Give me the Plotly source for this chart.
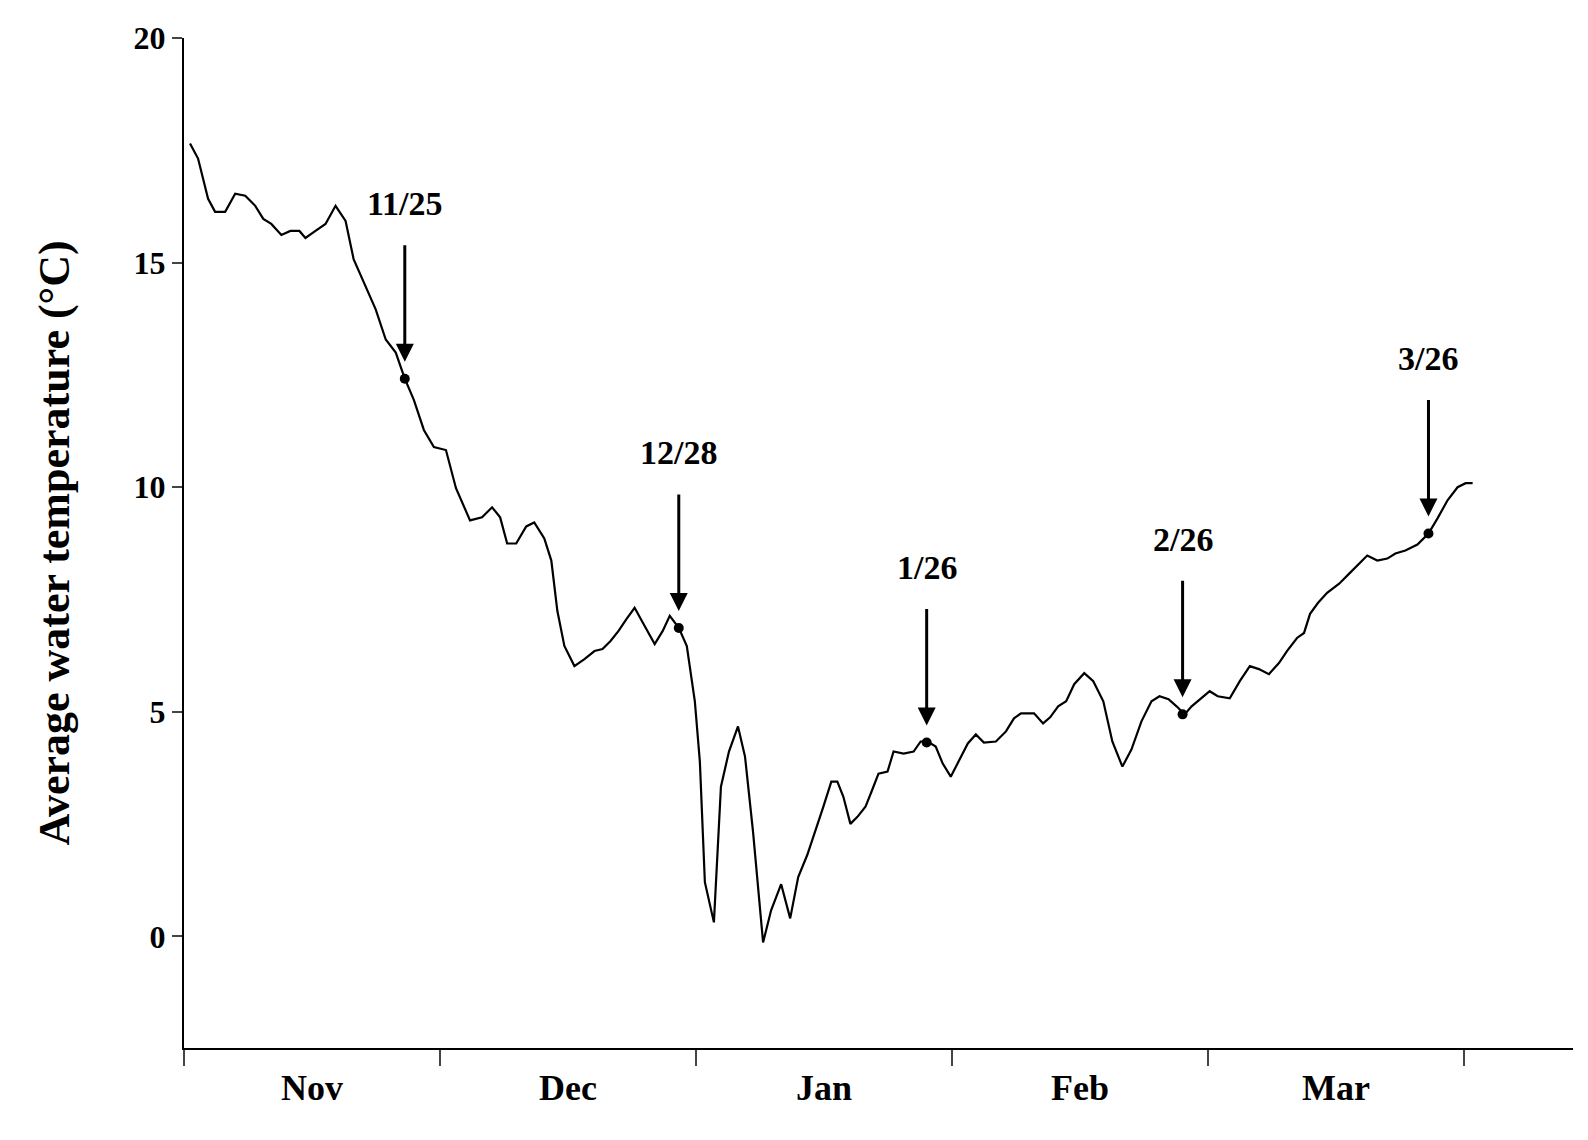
import plotly.graph_objects as go

# trace as (month-position, temperature °C); month-position 0 = Nov 1, 1 = Dec 1, ...
px_x = [187,195,205,212,222,232,242,252,260,268,278,287,296,302,312,322,332,342,350,360,372,382,392,401,410,420,430,442,452,466,478,488,496,503,512,522,530,540,547,553,560,570,580,590,598,606,614,622,630,640,650,658,665,674,682,690,695,700,709,716,724,733,740,748,758,766,776,785,793,802,810,818,826,832,838,845,852,860,866,873,882,888,898,908,915,922,930,937,945,955,962,970,978,990,1000,1008,1015,1028,1037,1044,1052,1060,1068,1078,1087,1097,1106,1116,1125,1135,1145,1153,1162,1170,1178,1185,1193,1203,1211,1223,1233,1243,1252,1262,1272,1280,1290,1297,1303,1311,1320,1332,1342,1352,1360,1370,1380,1388,1398,1410,1421,1430,1440,1450,1458,1465]
px_y = [135,150,190,203,203,185,187,197,210,215,226,222,222,229,222,215,197,212,250,273,300,330,343,369,390,420,437,440,478,510,507,497,507,533,533,516,512,528,550,600,635,655,648,640,638,630,620,608,597,615,633,620,605,617,635,690,750,870,910,775,740,715,745,820,930,898,872,906,865,843,820,795,770,770,785,812,805,795,780,762,760,740,742,740,730,730,735,752,765,745,732,723,731,730,720,707,702,702,712,706,695,690,673,662,670,690,730,755,738,710,690,685,688,695,703,695,688,680,685,687,670,655,658,663,652,640,627,622,603,592,582,573,563,553,545,550,548,543,540,534,523,508,490,477,473,473]
dates = [(x - 181) / 255 for x in px_x]
temps = [(924 - y) / 44.7 for y in px_y]

mark_labels = ["11/25", "12/28", "1/26", "2/26", "3/26"]
mark_x = [(x - 181) / 255 for x in [401, 674, 921, 1176, 1421]]
mark_y = [(924 - y) / 44.7 for y in [369, 617, 731, 703, 523]]

months = ["Nov", "Dec", "Jan", "Feb", "Mar"]
yticks = [0, 5, 10, 15, 20]

font = "Liberation Serif"
fig = go.Figure()
fig.add_trace(go.Scatter(x=dates, y=temps, mode="lines", line=dict(color="black", width=2.2)))
fig.add_trace(go.Scatter(x=mark_x, y=mark_y, mode="markers", marker=dict(color="black", size=10)))

ann = []
for lab, x, y in zip(mark_labels, mark_x, mark_y):
    ann.append(dict(x=x, y=y, xref="x", yref="y", text="", showarrow=True, ax=0, ay=-135,
                    arrowhead=2, arrowsize=1.2, arrowwidth=3, arrowcolor="black", standoff=17))
    ann.append(dict(x=x, y=y, xref="x", yref="y", text=f"<b>{lab}</b>", showarrow=False,
                    yshift=175, font=dict(family=font, size=34, color="black")))
for i, m in enumerate(months):
    ann.append(dict(x=i + 0.5, y=0, xref="x", yref="paper", yshift=-62, text=f"<b>{m}</b>",
                    showarrow=False, font=dict(family=font, size=36, color="black")))

fig.update_layout(
    width=1588, height=1140, plot_bgcolor="white", paper_bgcolor="white",
    margin=dict(l=176, r=23, t=22, b=100), showlegend=False, annotations=ann,
    xaxis=dict(range=[0, (1565 - 181) / 255], tickvals=[0, 1, 2, 3, 4, 5], showticklabels=False,
               ticks="outside", ticklen=16, tickwidth=2, showline=True, linewidth=2, linecolor="black",
               showgrid=False, zeroline=False),
    yaxis=dict(range=[-(1035 - 924) / 44.7, 20], tickvals=yticks, ticktext=[f"<b>{v}</b>" for v in yticks],
               ticks="outside", ticklen=10, tickwidth=2, showline=True, linewidth=2, linecolor="black",
               showgrid=False, zeroline=False, tickfont=dict(family=font, size=32, color="black"),
               title=dict(text="<b>Average water temperature (°C)</b>", standoff=50,
                          font=dict(family=font, size=44, color="black"))),
)
fig.write_html("out.html")
